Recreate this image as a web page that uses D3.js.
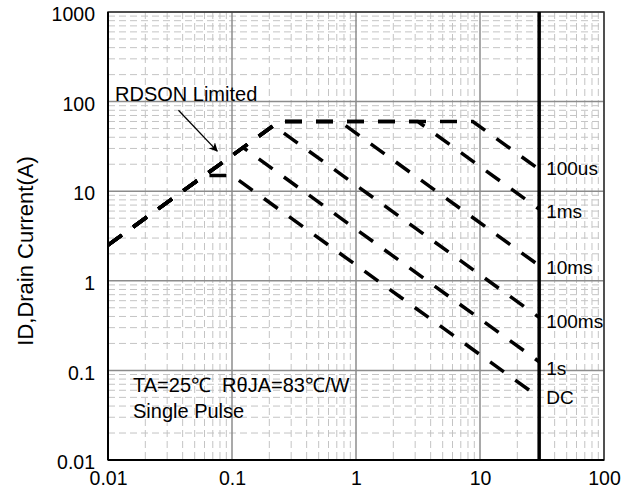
<!DOCTYPE html>
<html>
<head>
<meta charset="utf-8">
<script src="https://cdn.jsdelivr.net/npm/d3@7"></script>
<style>
  body { margin: 0; background: #fff; }
  text { font-family: "Liberation Sans", Arial, sans-serif; fill: #000; }
</style>
</head>
<body>
<svg id="chart"></svg>
<script>
var width = 634;
var height = 492;

// tick values / labels
const xTicks = [0.01, 0.1, 1, 10, 100];
const xTickLabels = ["0.01", "0.1", "1", "10", "100"];
const yTicks = [0.01, 0.1, 1, 10, 100, 1000];
const yTickLabels = ["0.01", "0.1", "1", "10", "100", "1000"];

// SOA curves, [VDS, ID] vertices
const soa100us = [[0.01, 2.5], [0.24, 60], [8.75, 60], [30, 17.5]];
const soa1ms   = [[0.01, 2.5], [0.24, 60], [3.15, 60], [30, 6.3]];
const soa10ms  = [[0.01, 2.5], [0.24, 60], [0.74, 60], [30, 1.48]];
const soa100ms = [[0.01, 2.5], [0.216, 54], [30, 0.39]];
const soa1s    = [[0.01, 2.5], [0.123, 30.7], [30, 0.125]];
const soaDC    = [[0.01, 2.5], [0.06, 15], [0.1, 15], [30, 0.05]];
const curveNames = ["100us", "1ms", "10ms", "100ms", "1s", "DC"];
const curves = [soa100us, soa1ms, soa10ms, soa100ms, soa1s, soaDC];

const vdsMax = 30;

const margin = {left: 108, right: 30, top: 12, bottom: 32};
const innerW = width - margin.left - margin.right;
const innerH = height - margin.top - margin.bottom;

const svg = d3.select("#chart")
    .attr("width", width)
    .attr("height", height);

const g = svg.append("g")
    .attr("transform", `translate(${margin.left},${margin.top})`);

const x = d3.scaleLog().domain([0.01, 100]).range([0, innerW]);
const y = d3.scaleLog().domain([0.01, 1000]).range([innerH, 0]);

const isMajor = v => Math.abs(Math.log10(v) - Math.round(Math.log10(v))) < 1e-6;

// minor grid
g.append("g").selectAll("line")
    .data(x.ticks().filter(v => !isMajor(v)))
    .join("line")
      .attr("x1", d => x(d)).attr("x2", d => x(d))
      .attr("y1", 0).attr("y2", innerH)
      .attr("stroke", "#c4c4c4")
      .attr("stroke-width", 1)
      .attr("stroke-dasharray", "7,4");

g.append("g").selectAll("line")
    .data(y.ticks().filter(v => !isMajor(v)))
    .join("line")
      .attr("y1", d => y(d)).attr("y2", d => y(d))
      .attr("x1", 0).attr("x2", innerW)
      .attr("stroke", "#c4c4c4")
      .attr("stroke-width", 1)
      .attr("stroke-dasharray", "7,4");

// major grid
g.append("g").selectAll("line")
    .data(xTicks)
    .join("line")
      .attr("x1", d => x(d)).attr("x2", d => x(d))
      .attr("y1", 0).attr("y2", innerH)
      .attr("stroke", "#8c8c8c")
      .attr("stroke-width", 1.5);

g.append("g").selectAll("line")
    .data(yTicks)
    .join("line")
      .attr("y1", d => y(d)).attr("y2", d => y(d))
      .attr("x1", 0).attr("x2", innerW)
      .attr("stroke", "#8c8c8c")
      .attr("stroke-width", 1.5);

// frame
g.append("rect")
    .attr("width", innerW)
    .attr("height", innerH)
    .attr("fill", "none")
    .attr("stroke", "#333")
    .attr("stroke-width", 1.5);
g.append("line")
    .attr("x1", 0).attr("x2", 0).attr("y1", 0).attr("y2", innerH)
    .attr("stroke", "#000").attr("stroke-width", 2);
g.append("line")
    .attr("x1", 0).attr("x2", innerW).attr("y1", innerH).attr("y2", innerH)
    .attr("stroke", "#000").attr("stroke-width", 2);

// axes (labels only)
const xAxis = g.append("g")
    .attr("transform", `translate(0,${innerH})`)
    .call(d3.axisBottom(x).tickValues(xTicks).tickSize(0).tickPadding(11)
        .tickFormat((d, i) => xTickLabels[i]));
xAxis.select(".domain").remove();
xAxis.selectAll("text").style("font-size", "19.5px").attr("font-family", null);

const yAxis = g.append("g")
    .call(d3.axisLeft(y).tickValues(yTicks).tickSize(0).tickPadding(13)
        .tickFormat((d, i) => yTickLabels[i]));
yAxis.select(".domain").remove();
yAxis.selectAll("text").style("font-size", "19.5px").attr("dy", "0.45em").attr("font-family", null);

svg.append("text")
    .attr("transform", `translate(33,${margin.top + innerH / 2 + 15}) rotate(-90)`)
    .attr("text-anchor", "middle")
    .style("font-size", "22px")
    .text("ID,Drain Current(A)");

// VDS max line
g.append("line")
    .attr("x1", x(vdsMax)).attr("x2", x(vdsMax))
    .attr("y1", 0).attr("y2", innerH)
    .attr("stroke", "#000")
    .attr("stroke-width", 3.5);

// SOA curves
const line = d3.line().x(d => x(d[0])).y(d => y(d[1]));
g.append("g").selectAll("path")
    .data(curves)
    .join("path")
      .attr("d", line)
      .attr("fill", "none")
      .attr("stroke", "#000")
      .attr("stroke-width", 3.5)
      .attr("stroke-dasharray", "17,14");

// curve labels, nudged off the curve ends
const labelNudge = [-1, 2, 2, 4, 7, 0];
g.append("g").selectAll("text")
    .data(curves)
    .join("text")
      .attr("x", x(vdsMax) + 7)
      .attr("y", (d, i) => y(d[d.length - 1][1]) + labelNudge[i])
      .attr("dy", "0.35em")
      .style("font-size", "19px")
      .text((d, i) => curveNames[i]);

// annotations
g.append("text")
    .attr("x", x(0.01) + 7)
    .attr("y", y(100) - 1)
    .style("font-size", "20px")
    .text("RDSON Limited");

svg.append("defs").append("marker")
    .attr("id", "arrow")
    .attr("viewBox", "0 0 10 10")
    .attr("refX", 9).attr("refY", 5)
    .attr("markerWidth", 9).attr("markerHeight", 9)
    .attr("markerUnits", "userSpaceOnUse")
    .attr("orient", "auto")
  .append("path")
    .attr("d", "M0,0 L10,5 L0,10 L3,5 Z")
    .attr("fill", "#000");

g.append("line")
    .attr("x1", x(0.037)).attr("y1", y(80))
    .attr("x2", x(0.076)).attr("y2", y(28))
    .attr("stroke", "#000")
    .attr("stroke-width", 1.3)
    .attr("marker-end", "url(#arrow)");

g.append("text")
    .attr("x", x(0.01) + 25)
    .attr("y", y(0.1) + 22)
    .style("font-size", "20px")
    .style("white-space", "pre")
    .text("TA=25\u2103\u00a0 R\u03b8JA=83\u2103/W");

g.append("text")
    .attr("x", x(0.01) + 25)
    .attr("y", y(0.1) + 48)
    .style("font-size", "20px")
    .text("Single Pulse");
</script>
</body>
</html>
